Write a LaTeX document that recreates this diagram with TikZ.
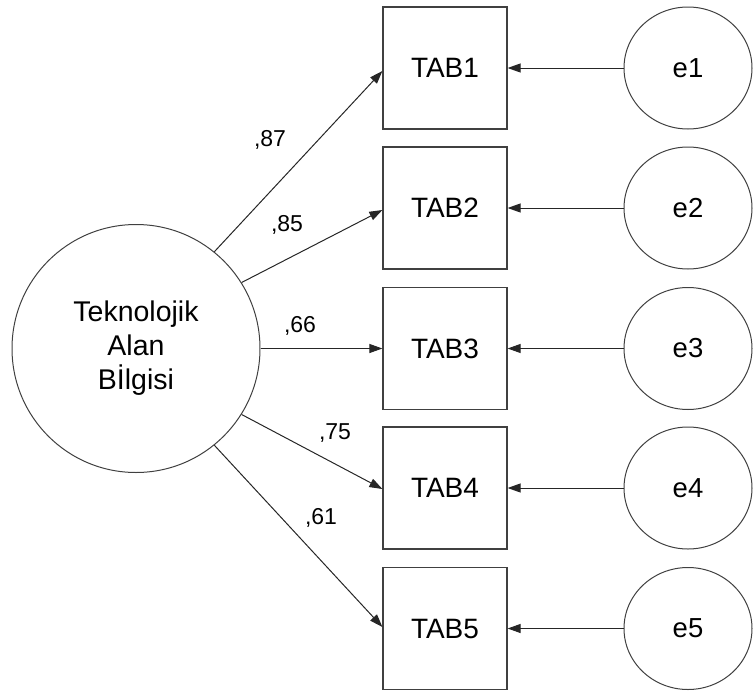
\documentclass[tikz,border=0pt]{standalone}
\usepackage{fontspec}
\setmainfont{Liberation Sans}
\usetikzlibrary{arrows.meta,shapes.geometric}
\begin{document}
\begin{tikzpicture}[x=1pt,y=-1pt,
  line/.style={draw=black!85,line width=1pt},
  arr/.style={line,-{Triangle[length=13pt,width=9pt]}},
  obs/.style={draw=black!75,line width=1.2pt,rectangle,minimum width=124pt,minimum height=122pt,inner sep=0pt,font=\fontsize{28}{32}\selectfont},
  err/.style={draw=black!75,line width=1pt,ellipse,minimum width=128pt,minimum height=122pt,inner sep=0pt,font=\fontsize{27.5}{32}\selectfont},
  lat/.style={draw=black!75,line width=1pt,circle,minimum size=248pt,inner sep=0pt,align=center,font=\fontsize{28.5}{34}\selectfont},
  wt/.style={font=\fontsize{23}{26}\selectfont,inner sep=0pt}]
\useasboundingbox (0,0) rectangle (753,691);

% latent factor
\node[lat] (F) at (136,348.5) {Teknolojik\\Alan\\B\.Ilgisi};

% indicators and their error terms
\foreach \k/\y in {1/68,2/208,3/348.5,4/488,5/628.5}{
  \node[obs] (T\k) at (445,\y) {TAB\k};
  \node[err] (E\k) at (688,\y) {e\k};
  \draw[arr] (E\k.west) -- (T\k.east);
}

% factor loadings
\coordinate (a1) at ([yshift=-3pt]T1.west);
\coordinate (a2) at ([yshift=-2pt]T2.west);
\coordinate (a3) at (T3.west);
\coordinate (a4) at ([yshift=-1pt]T4.west);
\coordinate (a5) at ([yshift=1.5pt]T5.west);
\draw[arr] (F.51.8) -- (a1);
\draw[arr] (F.32.3) -- (a2);
\draw[arr] (F.0) -- (a3);
\draw[arr] (F.-32.3) -- (a4);
\draw[arr] (F.-51.8) -- (a5);

\node[wt] (l1) at (270,140) {,87};
\node[wt] (l2) at (287,225) {,85};
\node[wt] (l3) at (300,326) {,66};
\node[wt] (l4) at (335,433) {,75};
\node[wt] (l5) at (321,518) {,61};
\end{tikzpicture}
\end{document}
